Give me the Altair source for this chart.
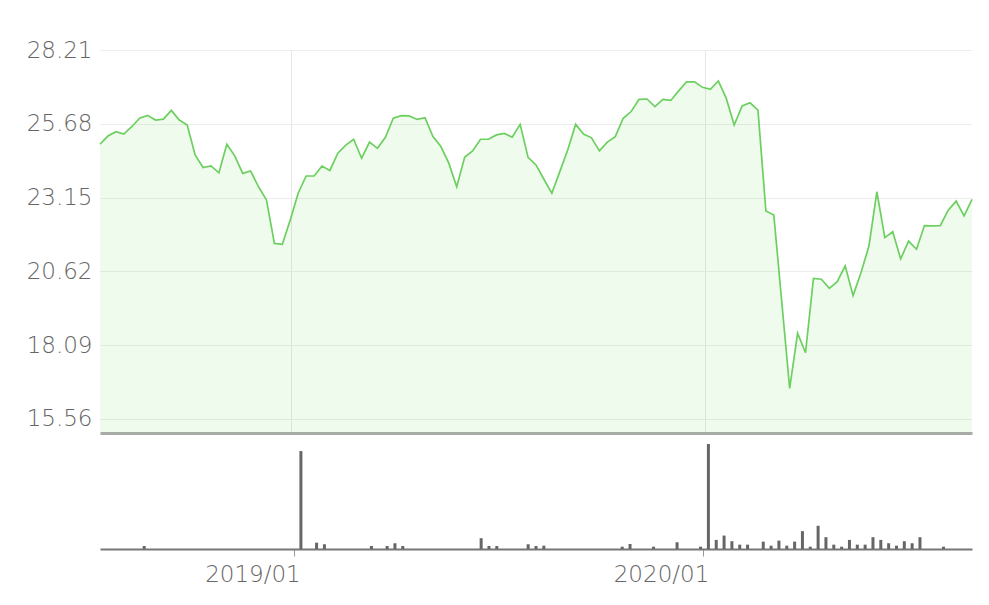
import altair as alt
import pandas as pd

# weekly closing prices
prices = [24.98, 25.26, 25.41, 25.33, 25.58, 25.87, 25.97, 25.81, 25.84, 26.14,
          25.81, 25.64, 24.61, 24.18, 24.24, 24.00, 24.98, 24.58, 23.98, 24.06,
          23.52, 23.07, 21.58, 21.55, 22.38, 23.30, 23.89, 23.89, 24.23, 24.08,
          24.67, 24.95, 25.15, 24.50, 25.05, 24.84, 25.22, 25.87, 25.96, 25.95,
          25.83, 25.89, 25.24, 24.90, 24.33, 23.52, 24.53, 24.75, 25.15, 25.15,
          25.30, 25.35, 25.22, 25.66, 24.53, 24.27, 23.78, 23.30, 24.04, 24.78,
          25.66, 25.33, 25.20, 24.75, 25.05, 25.24, 25.87, 26.10, 26.52, 26.53,
          26.27, 26.52, 26.48, 26.81, 27.12, 27.12, 26.93, 26.86, 27.15, 26.55,
          25.64, 26.29, 26.40, 26.15, 22.69, 22.55, 19.58, 16.61, 18.50, 17.83,
          20.38, 20.35, 20.04, 20.27, 20.81, 19.79, 20.58, 21.49, 23.35, 21.78,
          21.98, 21.05, 21.66, 21.38, 22.19, 22.18, 22.19, 22.72, 23.03, 22.52,
          23.09]

# weekly volume (relative units)
volumes = [0, 0, 0, 0, 0, 3, 0, 0, 0, 0,
           0, 0, 0, 0, 0, 0, 0, 0, 0, 0,
           0, 0, 0, 0, 0, 97, 0, 6.3, 4.7, 0,
           0, 0, 0, 0, 3, 0, 3, 5.7, 3, 0,
           0, 0, 0, 0, 0, 0, 0, 0, 10.7, 3,
           3, 0, 0, 0, 4.7, 3, 3.3, 0, 0, 0,
           0, 0, 0, 0, 0, 0, 2.3, 5, 0, 0,
           2.3, 0, 0, 6.7, 0, 0, 2.3, 104, 9, 13.3,
           7.7, 4.3, 4.3, 0, 7.3, 3.3, 8.3, 3.3, 7.3, 17.7,
           2.3, 23, 11.7, 4.3, 2.3, 9, 4.3, 4.3, 11.7, 9,
           5.7, 3.3, 7.7, 5.7, 11.7, 0, 0, 2.3, 0, 0,
           0]

start_date = "2018-07-16"
dates = pd.date_range(start_date, periods=len(prices), freq="7D")
date_strs = [d.strftime("%Y-%m-%dT00:00:00") for d in dates]

y_ticks = [15.56, 18.09, 20.62, 23.15, 25.68, 28.21]
y_domain = [15.08, 28.21]
vol_domain = [0, 104]

df = pd.DataFrame({"date": date_strs, "price": prices, "volume": volumes})

year_ticks = [alt.DateTime(year=2019, month=1, date=1),
              alt.DateTime(year=2020, month=1, date=1)]
x_domain = [alt.DateTime(year=2018, month=7, date=16),
            alt.DateTime(year=2020, month=8, date=24)]

W = 872
font = "DejaVu Sans"

x_top = alt.X("date:T", scale=alt.Scale(domain=x_domain, nice=False),
              axis=alt.Axis(values=year_ticks, labels=False, ticks=False, title=None,
                            grid=True, gridColor="#e6e6e6", gridWidth=1,
                            domainColor="#aaaaaa", domainWidth=3))

top_area = alt.Chart(df).mark_area(color="#5fe04c", fillOpacity=0.1, clip=True).encode(
    x=x_top,
    y=alt.Y("price:Q", scale=alt.Scale(domain=y_domain, nice=False, zero=False),
            axis=alt.Axis(values=y_ticks, format=".2f", title=None, ticks=False,
                          domain=False, gridColor="#ececec", gridWidth=1,
                          labelPadding=8, minExtent=87)),
)
top_line = alt.Chart(df).mark_line(color="#6ccf60", strokeWidth=1.7).encode(
    x="date:T", y="price:Q")

top = alt.layer(top_area, top_line).properties(width=W, height=383)

bottom = alt.Chart(df).mark_bar(color="#666666", size=3).encode(
    x=alt.X("date:T", scale=alt.Scale(domain=x_domain, nice=False),
            axis=alt.Axis(values=year_ticks, format="%Y/%m", title=None, grid=False,
                          domainColor="#777777", domainWidth=2,
                          tickColor="#999999", tickSize=7, tickWidth=1,
                          labelAlign="right", labelOffset=6, labelPadding=7)),
    y=alt.Y("volume:Q", scale=alt.Scale(domain=vol_domain, nice=False),
            axis=alt.Axis(labels=False, ticks=False, domain=False, grid=False,
                          title=None, minExtent=87)),
).properties(width=W, height=105)

chart = alt.vconcat(top, bottom, spacing=11).properties(
    padding={"left": 5, "top": 31, "right": 5, "bottom": 5}
).configure_view(stroke=None).configure_axis(
    labelFont=font, labelFontSize=23, labelColor="#666666", labelFontWeight=300
)

chart.save("out.html", embed_options={"renderer": "svg", "actions": False})
